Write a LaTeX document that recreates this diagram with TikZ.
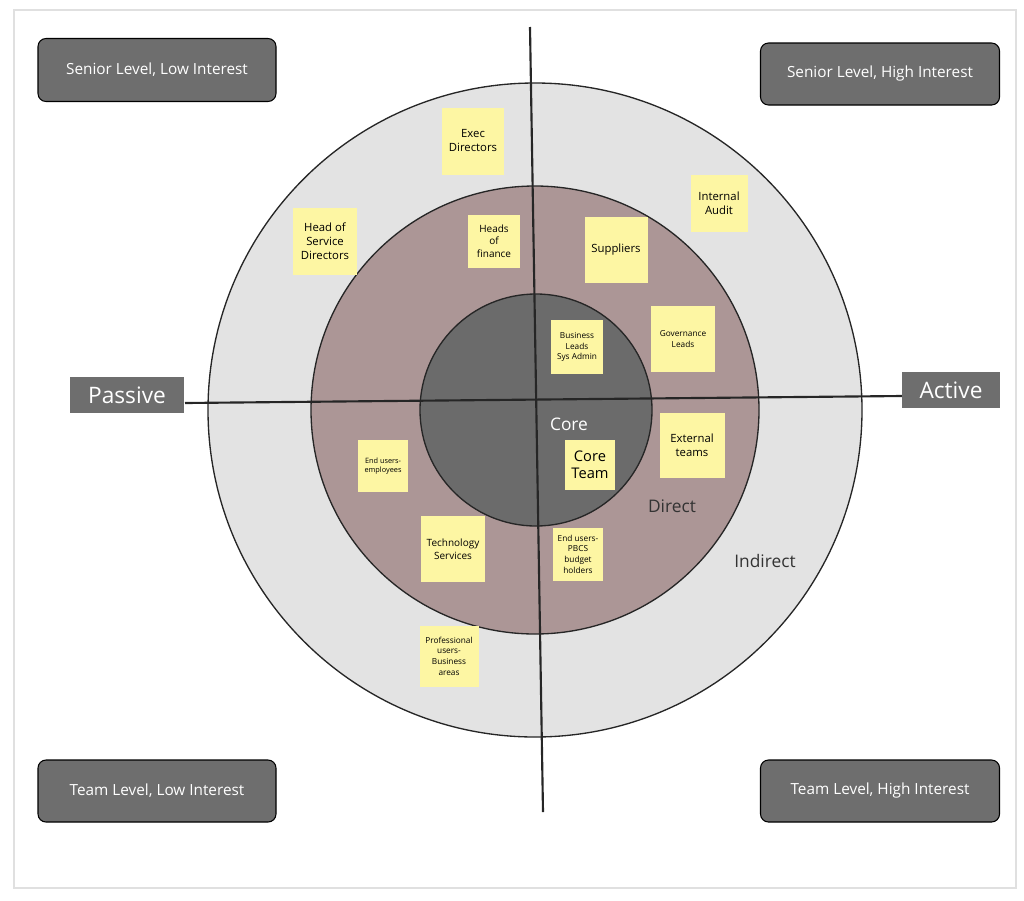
\documentclass[tikz,border=0pt]{standalone}
\usepackage{fontspec}
\setmainfont{Open Sans}
\begin{document}
\begin{tikzpicture}[x=0.75pt,y=-0.75pt,
  corner/.style={draw=black,line width=0.8pt,fill=boxgray,rounded corners=6pt,text=white,font=\fontsize{11.5}{13}\selectfont},
  tag/.style={fill=boxgray,text=white,font=\fontsize{17}{19}\selectfont,inner sep=0pt},
  sticky/.style={fill=stickyY,align=center,inner sep=1pt,text=black},
  note/.style={font=\fontsize{8.5}{10.5}\selectfont},
  tiny/.style={font=\fontsize{6.2}{8}\selectfont}]
\definecolor{boxgray}{HTML}{6E6E6E}
\definecolor{stickyY}{HTML}{FDF6A3}
\definecolor{outerC}{HTML}{E3E3E3}
\definecolor{midC}{HTML}{AC9696}
\definecolor{innerC}{HTML}{6B6B6B}
\useasboundingbox (0,0) rectangle (1024,900);
\draw[draw=black!12,line width=0.8pt] (14,10) rectangle (1016,888);
\node[circle,draw=black!85,line width=1pt,fill=outerC,minimum size=654*0.75pt,inner sep=0pt] (outer) at (535,410) {};
\node[circle,draw=black!85,line width=1pt,fill=midC,minimum size=448*0.75pt,inner sep=0pt] (mid) at (535,410) {};
\node[circle,draw=black!85,line width=1pt,fill=innerC,minimum size=232*0.75pt,inner sep=0pt] (inner) at (536,410) {};
\coordinate (vt) at (530,27); \coordinate (vb) at (543,812);
\coordinate (hl) at (185,403); \coordinate (hr) at (902,396);
\draw[line width=1.6pt,black!85] (vt) -- (vb);
\draw[line width=1.6pt,black!85] (hl) -- (hr);
\node[corner,minimum width=238*0.75pt,minimum height=63*0.75pt] (tl) at (157,70) {Senior Level, Low Interest};
\node[corner,minimum width=239*0.75pt,minimum height=62*0.75pt] (tr) at (880,74) {Senior Level, High Interest};
\node[corner,minimum width=238*0.75pt,minimum height=62*0.75pt] (bl) at (157,791) {Team Level, Low Interest};
\node[corner,minimum width=239*0.75pt,minimum height=62*0.75pt] (br) at (880,791) {Team Level, High Interest};
\node[tag,minimum width=114*0.75pt,minimum height=36*0.75pt] (passive) at (127,395) {Passive};
\node[tag,minimum width=98*0.75pt,minimum height=36*0.75pt] (active) at (951,390) {Active};
\node[sticky,note,minimum width=62*0.75pt,minimum height=67*0.75pt] (exec) at (473,141) {Exec\\Directors};
\node[sticky,note,minimum width=64*0.75pt,minimum height=67*0.75pt] (hos) at (325,241) {Head of\\Service\\Directors};
\node[sticky,tiny,font=\fontsize{7.5}{9.5}\selectfont,minimum width=52*0.75pt,minimum height=53*0.75pt] (hof) at (494,241) {Heads\\of\\finance};
\node[sticky,note,minimum width=63*0.75pt,minimum height=66*0.75pt] (sup) at (616,250) {Suppliers};
\node[sticky,note,minimum width=57*0.75pt,minimum height=57*0.75pt] (ia) at (719,203) {Internal\\Audit};
\node[sticky,tiny,minimum width=52*0.75pt,minimum height=54*0.75pt] (bl2) at (577,347) {Business\\Leads\\Sys Admin};
\node[sticky,tiny,minimum width=64*0.75pt,minimum height=66*0.75pt] (gov) at (683,339) {Governance\\Leads};
\node[sticky,note,minimum width=65*0.75pt,minimum height=65*0.75pt] (ext) at (692,445) {External\\teams};
\node[sticky,note,font=\fontsize{11}{13}\selectfont,minimum width=50*0.75pt,minimum height=50*0.75pt] (core) at (590,465) {Core\\Team};
\node[sticky,font=\fontsize{5.5}{7}\selectfont,minimum width=50*0.75pt,minimum height=52*0.75pt] (eue) at (383,466) {End users-\\employees};
\node[sticky,tiny,font=\fontsize{7.5}{9.5}\selectfont,minimum width=64*0.75pt,minimum height=66*0.75pt] (tech) at (453,549) {Technology\\Services};
\node[sticky,tiny,minimum width=50*0.75pt,minimum height=53*0.75pt] (eup) at (578,554) {End users-\\PBCS\\budget\\holders};
\node[sticky,tiny,minimum width=59*0.75pt,minimum height=61*0.75pt] (pro) at (449,656) {Professional\\users-\\Business\\areas};
\node[text=white,font=\fontsize{13}{15}\selectfont] (lcore) at (569,424) {Core};
\node[text=black!80,font=\fontsize{13}{15}\selectfont] (ldir) at (672,506) {Direct};
\node[text=black!80,font=\fontsize{13}{15}\selectfont] (lind) at (765,561) {Indirect};
\end{tikzpicture}
\end{document}
